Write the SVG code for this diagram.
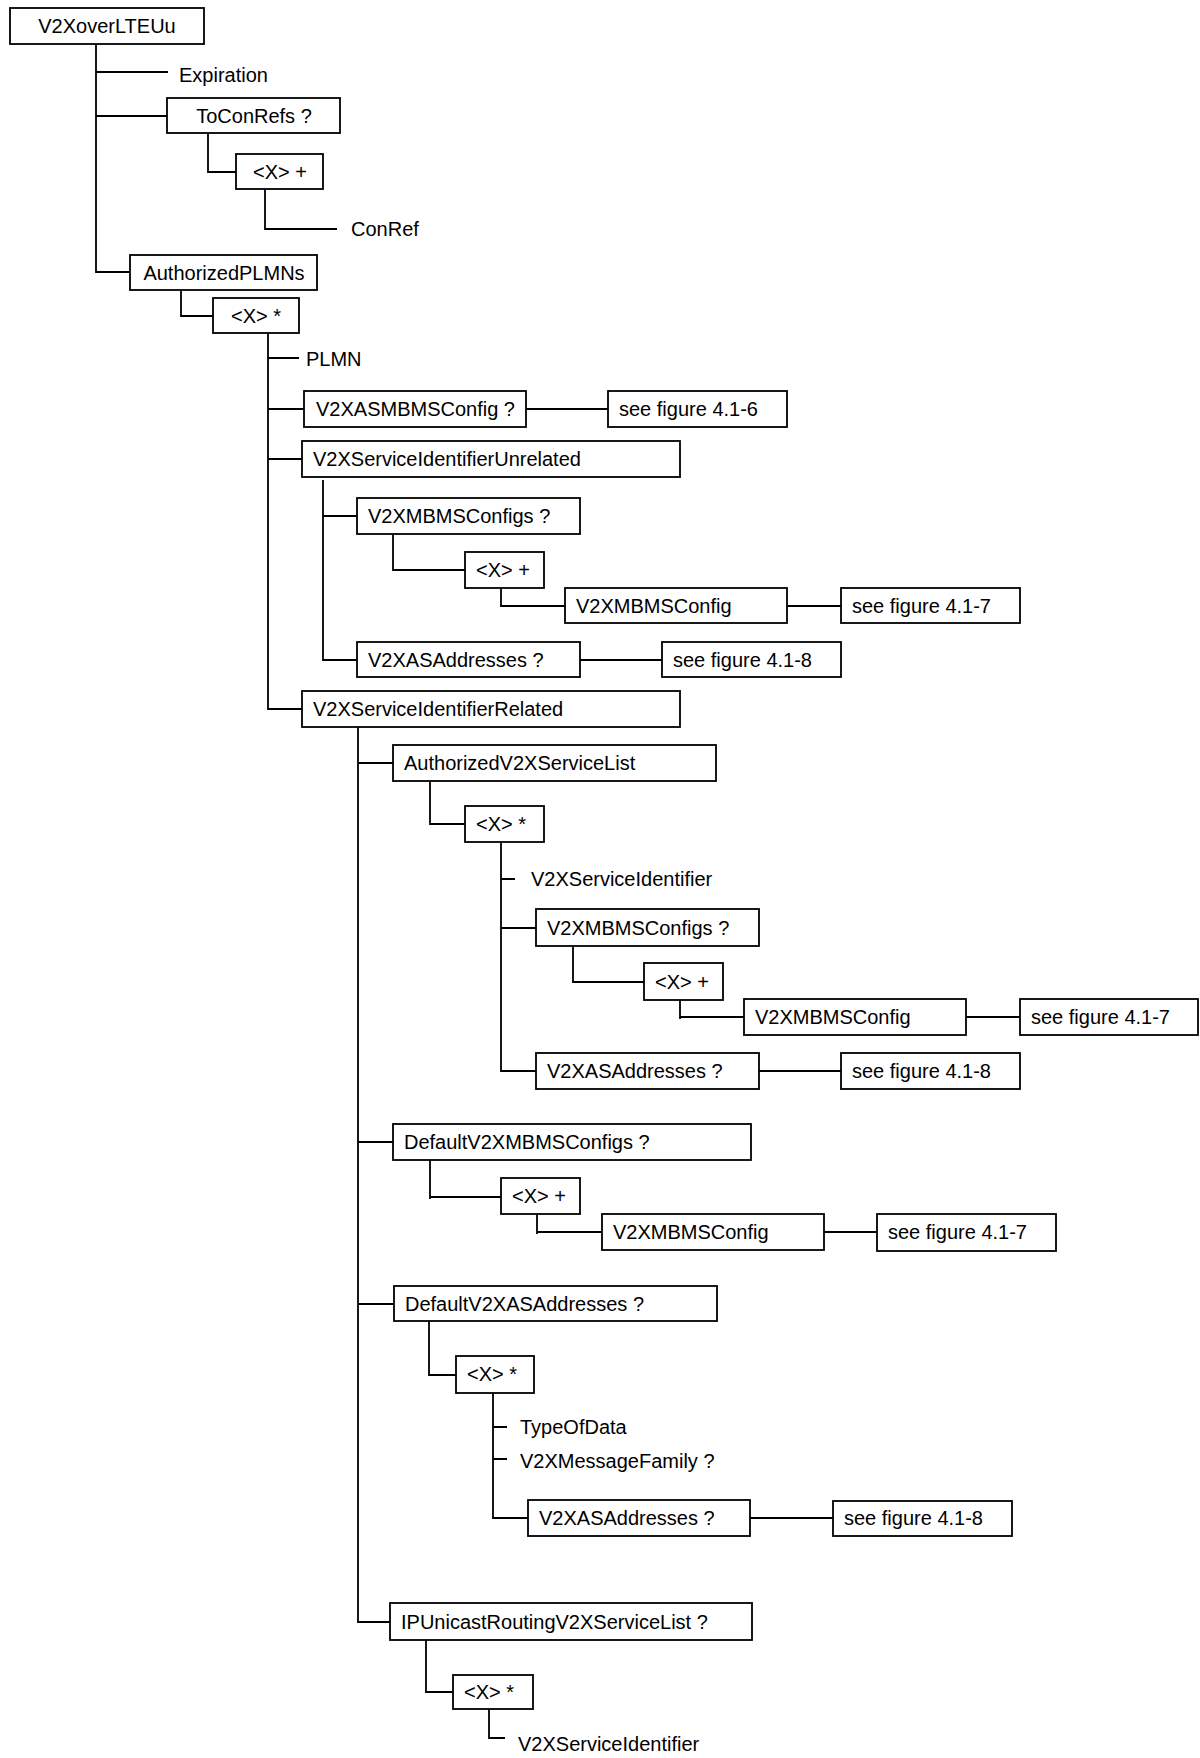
<svg xmlns="http://www.w3.org/2000/svg" width="1200" height="1758" viewBox="0 0 1200 1758">
<style>
.b{fill:#fff;stroke:#000;stroke-width:1.8}
.t{font-family:"Liberation Sans",Arial,sans-serif;font-size:20px;fill:#000}
.m{text-anchor:middle}
#connectors path{fill:none;stroke:#000;stroke-width:1.8}
</style>
<rect width="1200" height="1758" fill="#fff"/>
<g id="connectors">
<path d="M96,44V272H130M96,72H168M96,116H167"/>
<path d="M208,133V172H236M265,189V229H337"/>
<path d="M181,290V316H213"/>
<path d="M268,333V709H302M268,358H299M268,409H304M268,459H302"/>
<path d="M526,409H608"/>
<path d="M323,480V660H357M323,516H357"/>
<path d="M393,531V570H465M501,588V607M501,606H565M787,606H841M580,660H662"/>
<path d="M358,727V1622H390M358,763H393M358,1142H393M358,1304H394"/>
<path d="M430,781V824H465"/>
<path d="M501,842V1071H536M501,879H515M501,928H536"/>
<path d="M573,946V982H644M680,1000V1019M680,1017H744M966,1017H1020M759,1071H841"/>
<path d="M430,1160V1199M430,1197H501M537,1214V1234M537,1232H602M824,1232H877"/>
<path d="M429,1321V1375H456M493,1393V1518H528M493,1427H507M493,1459H507M750,1518H833"/>
<path d="M426,1640V1692H453M489,1709V1738H505"/>
</g>
<g id="n-root"><rect class="b" x="10" y="8" width="194" height="36"/><text class="t m" x="107" y="33">V2XoverLTEUu</text></g>
<g id="n-expiration"><text class="t" x="179" y="82">Expiration</text></g>
<g id="n-toconrefs"><rect class="b" x="167" y="98" width="173" height="35"/><text class="t m" x="254" y="123">ToConRefs ?</text></g>
<g id="n-x1"><rect class="b" x="236" y="154" width="87" height="35"/><text class="t m" x="280" y="179">&lt;X&gt; +</text></g>
<g id="n-conref"><text class="t" x="351" y="236">ConRef</text></g>
<g id="n-authplmns"><rect class="b" x="130" y="255" width="187" height="35"/><text class="t m" x="224" y="280">AuthorizedPLMNs</text></g>
<g id="n-x2"><rect class="b" x="213" y="298" width="86" height="35"/><text class="t m" x="256" y="323">&lt;X&gt; *</text></g>
<g id="n-plmn"><text class="t" x="306" y="366">PLMN</text></g>
<g id="n-asmbms"><rect class="b" x="304" y="391" width="222" height="36"/><text class="t" x="316" y="416">V2XASMBMSConfig ?</text></g>
<g id="n-fig416"><rect class="b" x="608" y="391" width="179" height="36"/><text class="t" x="619" y="416">see figure 4.1-6</text></g>
<g id="n-unrel"><rect class="b" x="302" y="441" width="378" height="36"/><text class="t" x="313" y="466">V2XServiceIdentifierUnrelated</text></g>
<g id="n-mbmscfgs1"><rect class="b" x="357" y="498" width="223" height="36"/><text class="t" x="368" y="523">V2XMBMSConfigs ?</text></g>
<g id="n-x3"><rect class="b" x="465" y="552" width="79" height="36"/><text class="t" x="476" y="577">&lt;X&gt; +</text></g>
<g id="n-mbmscfg1"><rect class="b" x="565" y="588" width="222" height="35"/><text class="t" x="576" y="613">V2XMBMSConfig</text></g>
<g id="n-fig417a"><rect class="b" x="841" y="588" width="179" height="35"/><text class="t" x="852" y="613">see figure 4.1-7</text></g>
<g id="n-asaddr1"><rect class="b" x="357" y="642" width="223" height="35"/><text class="t" x="368" y="667">V2XASAddresses ?</text></g>
<g id="n-fig418a"><rect class="b" x="662" y="642" width="179" height="35"/><text class="t" x="673" y="667">see figure 4.1-8</text></g>
<g id="n-rel"><rect class="b" x="302" y="691" width="378" height="36"/><text class="t" x="313" y="716">V2XServiceIdentifierRelated</text></g>
<g id="n-authlist"><rect class="b" x="393" y="745" width="323" height="36"/><text class="t" x="404" y="770">AuthorizedV2XServiceList</text></g>
<g id="n-x4"><rect class="b" x="465" y="806" width="79" height="36"/><text class="t" x="476" y="831">&lt;X&gt; *</text></g>
<g id="n-sid1"><text class="t" x="531" y="886">V2XServiceIdentifier</text></g>
<g id="n-mbmscfgs2"><rect class="b" x="536" y="909" width="223" height="37"/><text class="t" x="547" y="935">V2XMBMSConfigs ?</text></g>
<g id="n-x5"><rect class="b" x="644" y="963" width="79" height="37"/><text class="t" x="655" y="989">&lt;X&gt; +</text></g>
<g id="n-mbmscfg2"><rect class="b" x="744" y="999" width="222" height="36"/><text class="t" x="755" y="1024">V2XMBMSConfig</text></g>
<g id="n-fig417b"><rect class="b" x="1020" y="999" width="178" height="36"/><text class="t" x="1031" y="1024">see figure 4.1-7</text></g>
<g id="n-asaddr2"><rect class="b" x="536" y="1053" width="223" height="36"/><text class="t" x="547" y="1078">V2XASAddresses ?</text></g>
<g id="n-fig418b"><rect class="b" x="841" y="1053" width="179" height="36"/><text class="t" x="852" y="1078">see figure 4.1-8</text></g>
<g id="n-defmbms"><rect class="b" x="393" y="1124" width="358" height="36"/><text class="t" x="404" y="1149">DefaultV2XMBMSConfigs ?</text></g>
<g id="n-x6"><rect class="b" x="501" y="1178" width="79" height="36"/><text class="t" x="512" y="1203">&lt;X&gt; +</text></g>
<g id="n-mbmscfg3"><rect class="b" x="602" y="1214" width="222" height="36"/><text class="t" x="613" y="1239">V2XMBMSConfig</text></g>
<g id="n-fig417c"><rect class="b" x="877" y="1214" width="179" height="37"/><text class="t" x="888" y="1239">see figure 4.1-7</text></g>
<g id="n-defas"><rect class="b" x="394" y="1286" width="323" height="35"/><text class="t" x="405" y="1311">DefaultV2XASAddresses ?</text></g>
<g id="n-x7"><rect class="b" x="456" y="1356" width="78" height="37"/><text class="t" x="467" y="1381">&lt;X&gt; *</text></g>
<g id="n-typeofdata"><text class="t" x="520" y="1434">TypeOfData</text></g>
<g id="n-msgfam"><text class="t" x="520" y="1468">V2XMessageFamily ?</text></g>
<g id="n-asaddr3"><rect class="b" x="528" y="1500" width="222" height="36"/><text class="t" x="539" y="1525">V2XASAddresses ?</text></g>
<g id="n-fig418c"><rect class="b" x="833" y="1501" width="179" height="35"/><text class="t" x="844" y="1525">see figure 4.1-8</text></g>
<g id="n-ipuni"><rect class="b" x="390" y="1603" width="362" height="37"/><text class="t" x="401" y="1629">IPUnicastRoutingV2XServiceList ?</text></g>
<g id="n-x8"><rect class="b" x="453" y="1675" width="80" height="34"/><text class="t" x="464" y="1699">&lt;X&gt; *</text></g>
<g id="n-sid2"><text class="t" x="518" y="1751">V2XServiceIdentifier</text></g>
</svg>
